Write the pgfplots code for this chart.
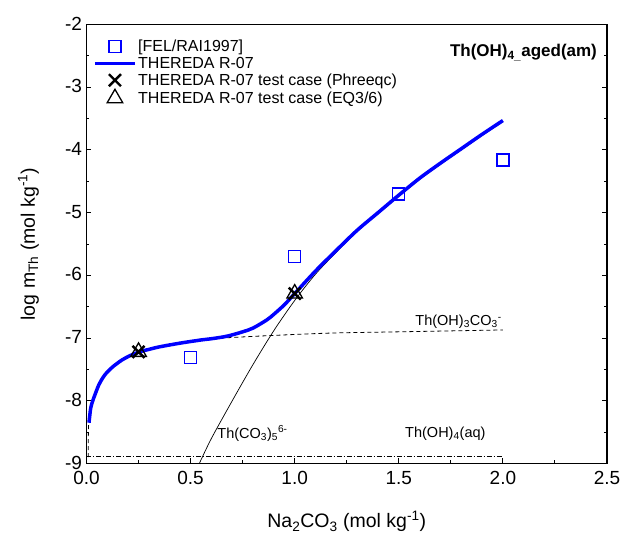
\documentclass[border=0pt]{standalone}
\usepackage{fontspec}
\setmainfont{Liberation Sans}
\usepackage{pgfplots}
\pgfplotsset{compat=1.18}
\pgfplotsset{
  markleg/.style={legend image code/.code={\draw[##1] plot coordinates {(20pt,0pt)};}},
  lineleg/.style={legend image code/.code={\draw[##1] (0pt,0pt) -- (40pt,0pt);}},
}
\begin{document}
\begin{tikzpicture}
\useasboundingbox (-86.5pt,-74.5pt) rectangle (540.5pt,463.5pt);
\begin{axis}[
  at={(0pt,0pt)}, anchor=south west,
  scale only axis, width=520.5pt, height=438.9pt,
  xmin=0, xmax=2.5, ymin=-9, ymax=-2,
  xtick={0,0.5,1,1.5,2,2.5}, ytick={-9,-8,-7,-6,-5,-4,-3,-2},
  xticklabels={0.0,0.5,1.0,1.5,2.0,2.5},
  yticklabels={-9,-8,-7,-6,-5,-4,-3,-2},
  minor x tick num=1, minor y tick num=1,
  tick align=inside, xtick pos=left, ytick pos=both, yticklabel pos=left,
  major tick length=5pt, minor tick length=3pt,
  axis line style={line width=1.2pt},
  every tick/.style={line width=1pt, black},
  ticklabel style={font=\fontsize{19}{21}\selectfont},
  xticklabel style={yshift=-4.5pt},
  yticklabel style={xshift=-1pt, yshift=1pt},
  xlabel={Na\textsubscript{2}CO\textsubscript{3} (mol kg\textsuperscript{-1})},
  ylabel={log m\textsubscript{Th} (mol kg\textsuperscript{-1})},
  label style={font=\fontsize{19.5}{22}\selectfont},
  xlabel style={at={(axis description cs:0.5,0)}, anchor=center, yshift=-58pt},
  ylabel style={at={(axis description cs:0,0.5)}, anchor=center, yshift=58pt},
  legend style={draw=none, fill=none, at={(axis description cs:0.0125,0.969)}, anchor=north west,
    font=\fontsize{16}{18}\selectfont, inner sep=0pt, row sep=1pt, nodes={inner sep=1.5pt}},
  legend cell align=left,
]
% Th(OH)4(aq)
\addplot[forget plot, black, line width=0.7pt, dash pattern=on 5pt off 2pt on 1pt off 2pt]
  coordinates {(0,-8.88) (2.0,-8.88)};
% Th(CO3)5 6-
\addplot[forget plot, black, line width=0.7pt, smooth]
  coordinates {(0.542,-9.0) (0.6,-8.6) (0.7,-8.0) (0.8,-7.42) (0.9,-6.88) (1.0,-6.4) (1.1,-5.98) (1.2,-5.63) (1.3,-5.3) (1.4,-5.02) (1.5,-4.74) (1.6,-4.47) (1.7,-4.23) (1.8,-4.0) (1.9,-3.77) (2.0,-3.55)};
% Th(OH)3CO3-
\addplot[forget plot, black, line width=0.8pt, dash pattern=on 4pt off 3pt, smooth]
  coordinates {(0.008,-8.9) (0.01,-8.4) (0.02,-8.12) (0.03,-8.0) (0.041,-7.9) (0.06,-7.74) (0.081,-7.62) (0.1,-7.54) (0.129,-7.45) (0.17,-7.35) (0.209,-7.28) (0.254,-7.22) (0.3,-7.18) (0.35,-7.14) (0.45,-7.08) (0.55,-7.03) (0.6,-7.01) (0.7,-6.99) (0.88,-6.96) (1.17,-6.92) (1.5,-6.9) (2.0,-6.87)};

\addplot[only marks, mark=square, blue, mark size=6pt, line width=1.3pt, markleg]
  coordinates {(0.5,-7.31) (1.0,-5.70) (1.5,-4.70) (2.0,-4.16)};
\addlegendentry{[FEL/RAI1997]}

\addplot[blue, line width=3.5pt, smooth, no marks, lineleg]
  coordinates {(0.012,-8.35) (0.02,-8.12) (0.03,-8.0) (0.041,-7.9) (0.06,-7.74) (0.081,-7.62) (0.1,-7.54) (0.129,-7.45) (0.17,-7.35) (0.209,-7.28) (0.254,-7.22) (0.3,-7.18) (0.35,-7.14) (0.45,-7.08) (0.55,-7.03) (0.6,-7.01) (0.674,-6.97) (0.75,-6.9) (0.8,-6.84) (0.866,-6.71) (0.9,-6.62) (0.95,-6.47) (1.0,-6.29) (1.1,-5.93) (1.2,-5.6) (1.3,-5.28) (1.4,-5.0) (1.5,-4.72) (1.6,-4.45) (1.7,-4.21) (1.8,-3.98) (1.9,-3.75) (2.0,-3.53)};
\addlegendentry{THEREDA R-07}

\addplot[only marks, mark=x, black, mark size=8.5pt, line width=2.4pt, markleg]
  coordinates {(0.25,-7.22) (1.0,-6.29)};
\addlegendentry{THEREDA R-07 test case (Phreeqc)}

\addplot[only marks, mark=triangle, black, mark size=9pt, line width=1.3pt, markleg]
  coordinates {(0.25,-7.22) (1.0,-6.29)};
\addlegendentry{THEREDA R-07 test case (EQ3/6)}

\node[anchor=base east, font=\bfseries\fontsize{17}{19}\selectfont, inner sep=0pt]
  at (rel axis cs:0.981,0.927) {Th(OH)\textsubscript{4\_}aged(am)};
\node[anchor=south east, font=\fontsize{14.5}{16}\selectfont, inner sep=1pt]
  at (axis cs:2.0,-6.87) {Th(OH)\textsubscript{3}CO\textsubscript{3}\textsuperscript{-}};
\node[anchor=west, font=\fontsize{14.5}{16}\selectfont, inner sep=0pt]
  at (axis cs:0.628,-8.52) {Th(CO\textsubscript{3})\textsubscript{5}\textsuperscript{6-}};
\node[anchor=west, font=\fontsize{14.5}{16}\selectfont, inner sep=0pt]
  at (axis cs:1.53,-8.52) {Th(OH)\textsubscript{4}(aq)};
\end{axis}
\end{tikzpicture}
\end{document}
